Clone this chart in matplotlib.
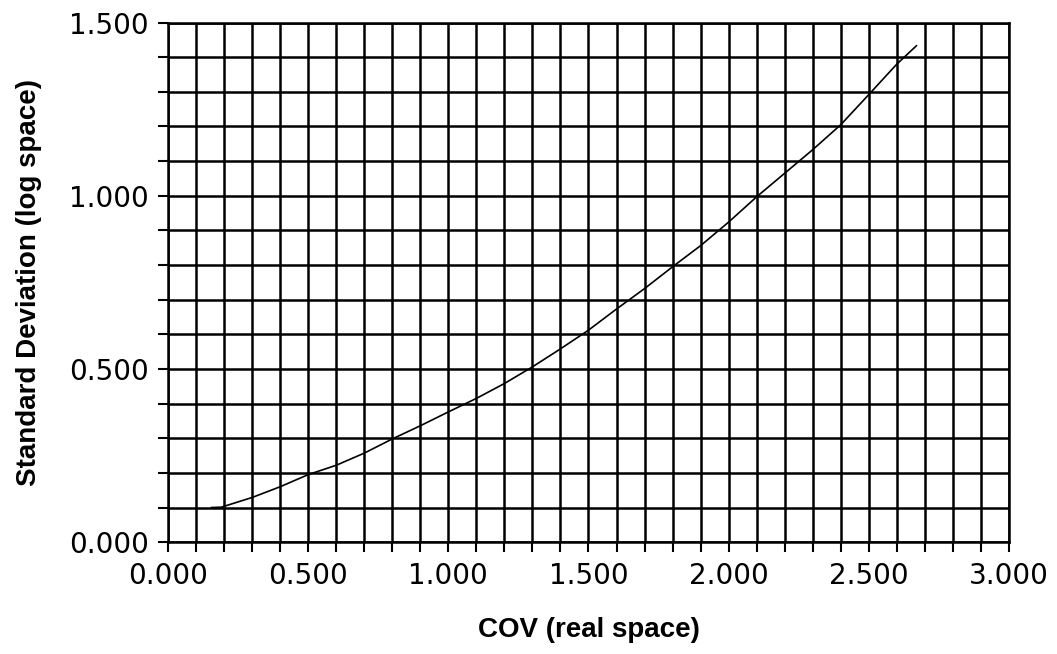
import matplotlib.pyplot as plt
import numpy as np
from matplotlib.ticker import MultipleLocator, FuncFormatter

# COV (real space) vs standard deviation (log space)
cov = [0.155, 0.19, 0.30, 0.40, 0.50, 0.60, 0.70, 0.80, 0.90, 1.00, 1.10, 1.20, 1.30,
       1.40, 1.50, 1.60, 1.70, 1.80, 1.90, 2.00, 2.10, 2.20, 2.30, 2.40, 2.50,
       2.60, 2.67]
std_log = [0.100, 0.101, 0.129, 0.160, 0.195, 0.222, 0.257, 0.298, 0.336, 0.376,
           0.415, 0.458, 0.506, 0.558, 0.612, 0.673, 0.732, 0.795, 0.856, 0.924,
           0.997, 1.065, 1.133, 1.205, 1.292, 1.380, 1.433]

fig = plt.figure(figsize=(10.57, 6.54), dpi=100)
ax = fig.add_axes([0.159, 0.171, 0.7955, 0.7945])

ax.plot(cov, std_log, color='black', linewidth=1.2, zorder=3)

ax.set_xlim(0, 3)
ax.set_ylim(0, 1.5)

# every 0.1 gets a grid line, labels only every 0.5
ax.xaxis.set_major_locator(MultipleLocator(0.5))
ax.xaxis.set_minor_locator(MultipleLocator(0.1))
ax.yaxis.set_major_locator(MultipleLocator(0.5))
ax.yaxis.set_minor_locator(MultipleLocator(0.1))
fmt = FuncFormatter(lambda v, p: f"{v:.3f}")
ax.xaxis.set_major_formatter(fmt)
ax.yaxis.set_major_formatter(fmt)

ax.grid(True, which='both', color='black', linewidth=1.8)
ax.set_axisbelow(True)

ax.tick_params(which='both', direction='out', length=7, width=1.5, color='black')
ax.tick_params(axis='both', which='major', labelsize=20, pad=7)
for lab in ax.get_xticklabels() + ax.get_yticklabels():
    lab.set_family('DejaVu Sans')

for s in ax.spines.values():
    s.set_linewidth(1.8)

ax.set_xlabel('COV (real space)', fontsize=20, fontweight='bold',
              family='Liberation Sans', labelpad=20)
ax.set_ylabel('Standard Deviation (log space)', fontsize=20, fontweight='bold',
              family='Liberation Sans', labelpad=19)

fig.savefig('out.png', dpi=100)
